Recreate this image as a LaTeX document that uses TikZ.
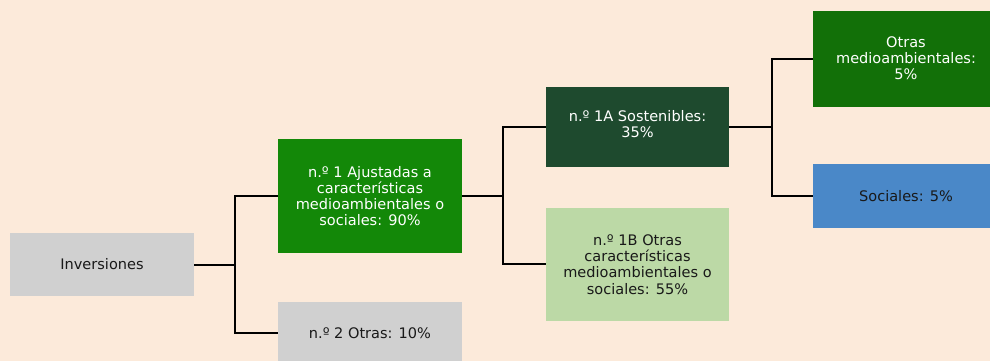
\documentclass[tikz,border=0pt]{standalone}
\usepackage{fontspec}
\setmainfont{DejaVu Sans}
\definecolor{bgc}{HTML}{FCEADA}
\definecolor{greyc}{HTML}{D0D0D0}
\definecolor{greenc}{HTML}{138808}
\definecolor{darkc}{HTML}{1E4A2E}
\definecolor{lightc}{HTML}{BCD9A6}
\definecolor{otrasc}{HTML}{127008}
\definecolor{bluec}{HTML}{4A88C8}
\begin{document}
\begin{tikzpicture}[x=0.75pt,y=-0.75pt,
  box/.style={draw=none,inner sep=0pt,align=center,font=\fontsize{10.9}{12.2}\selectfont},
  conn/.style={line width=1.5pt,black}]
\fill[bgc] (0,0) rectangle (990,361);
\useasboundingbox (0,0) rectangle (990,361);
% boxes
\fill[greyc] (10,233) rectangle (194,296);
\node[box,text=black!90] (inv) at (102,264.5) {Inversiones};
\fill[greenc] (278,139) rectangle (462,253);
\node[box,text=white] (b1) at (370,196) {n.º 1 Ajustadas a\\características\\medioambientales o\\sociales: 90\%};
\fill[greyc] (278,302) rectangle (462,361);
\node[box,text=black!90] (b2) at (370,333) {n.º 2 Otras: 10\%};
\fill[darkc] (546,87) rectangle (729,167);
\node[box,text=white] (b1a) at (637.5,124) {n.º 1A Sostenibles:\\35\%};
\fill[lightc] (546,208) rectangle (729,321);
\node[box,text=black!90] (b1b) at (637.5,264.5) {n.º 1B Otras\\características\\medioambientales o\\sociales: 55\%};
\fill[otrasc] (813,11) rectangle (990,107);
\node[box,text=white] (ot) at (906,58) {Otras\\medioambientales:\\5\%};
\fill[bluec] (813,164) rectangle (990,228);
\node[box,text=black!90] (so) at (906,196) {Sociales: 5\%};
% anchor coordinates
\coordinate (invR) at (194,265);
\coordinate (b1L) at (278,196);
\coordinate (b2L) at (278,333);
\coordinate (b1R) at (462,196);
\coordinate (b1aL) at (546,127);
\coordinate (b1bL) at (546,264);
\coordinate (b1aR) at (729,127);
\coordinate (otL) at (813,59);
\coordinate (soL) at (813,196);
% connectors
\draw[conn] (invR) -- (235,265);
\draw[conn] (b1L) -| (235,333) -- (b2L);
\draw[conn] (b1R) -- (503,196);
\draw[conn] (b1aL) -| (503,264) -- (b1bL);
\draw[conn] (b1aR) -- (772,127);
\draw[conn] (otL) -| (772,196) -- (soL);
\end{tikzpicture}
\end{document}
